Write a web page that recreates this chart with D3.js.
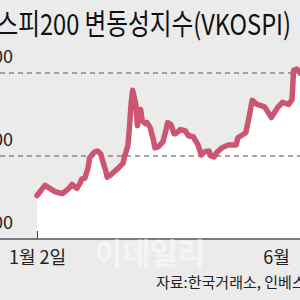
<!DOCTYPE html>
<html>
<head>
<meta charset="utf-8">
<script src="https://cdn.jsdelivr.net/npm/d3@7"></script>
<style>
  body { margin: 0; background: #ebebeb; }
  svg { display: block; }
  text { font-family: "Noto Sans CJK KR", "Noto Sans", sans-serif; }
</style>
</head>
<body>
<svg width="300" height="300"></svg>
<script>
// VKOSPI daily readings
var dates = ["01-02","01-05","01-07","01-10","01-13","01-15","01-18","01-22","01-24","01-27",
  "01-29","01-30","02-01","02-03","02-04","02-07","02-09","02-11","02-12","02-14",
  "02-15","02-17","02-19","02-22","02-25","02-26","02-28","03-01","03-02","03-03",
  "03-05","03-06","03-08","03-09","03-11","03-12","03-14","03-16","03-17","03-19",
  "03-22","03-24","03-25","03-27","03-29","03-30","04-02","04-05","04-07","04-10",
  "04-13","04-15","04-17","04-20","04-21","04-23","04-25","04-28","05-02","05-07",
  "05-08","05-11","05-13","05-15","05-17","05-20","05-24","05-25","05-29","05-31",
  "06-02","06-05","06-09","06-11","06-12","06-14","06-16"];
var values = [12.62,12.99,13.23,13.05,12.87,12.80,12.74,13.05,13.29,13.05,
  13.35,13.60,13.66,14.27,14.88,15.24,15.30,15.12,14.76,14.15,
  13.72,13.84,14.02,14.27,14.57,15.00,15.61,16.71,18.11,18.96,
  18.11,16.83,17.80,17.13,16.95,17.01,16.71,15.98,15.49,15.55,
  15.85,16.59,17.01,16.89,16.34,16.34,16.59,16.52,16.22,16.16,
  15.67,15.06,15.24,15.30,15.00,14.94,15.24,15.49,15.67,15.67,
  16.10,16.28,16.40,17.32,18.35,18.11,17.99,17.93,17.32,17.62,
  17.93,18.23,18.11,18.41,20.18,20.24,20.00];
var yTicks = [10, 15, 20];
var xTicks = ["01-02", "06-01"];
var xLabels = ["1월 2일", "6월"];

var title = "코스피200 변동성지수(VKOSPI)";
var source = "자료:한국거래소, 인베스팅닷컴";

var parse = d3.timeParse("%Y-%m-%d");
var data = dates.map(function(d, i) { return {date: parse("2018-" + d), v: values[i]}; });

var svg = d3.select("svg");

var x = d3.scaleTime()
    .domain([parse("2018-01-02"), parse("2018-06-16")])
    .range([37, 300]);
var y = d3.scaleLinear()
    .domain([10, 20])
    .range([239, 73]);

// white area under the line
var area = d3.area()
    .x(function(d) { return x(d.date); })
    .y0(y(10))
    .y1(function(d) { return y(d.v); });
svg.append("path")
    .datum(data)
    .attr("fill", "#fff")
    .attr("d", area);

// dashed grid
svg.append("g").selectAll("line")
    .data(yTicks.slice(1))
    .enter().append("line")
    .attr("x1", 0).attr("x2", 300)
    .attr("y1", function(d) { return y(d); })
    .attr("y2", function(d) { return y(d); })
    .attr("stroke", "#8a8a8a")
    .attr("stroke-width", 1.4)
    .attr("stroke-dasharray", "5,4");

// y labels (cut off at the left edge, as in the original)
svg.append("g").selectAll("text")
    .data(yTicks)
    .enter().append("text")
    .attr("x", 13)
    .attr("y", function(d) { return y(d) - 10; })
    .attr("text-anchor", "end")
    .attr("font-size", 18)
    .attr("fill", "#222")
    .text(function(d) { return d3.format(".2f")(d); });

// baseline axis
var xAxis = d3.axisBottom(x)
    .tickValues(xTicks.map(function(d) { return parse("2018-" + d); }))
    .tickSize(-8)
    .tickFormat(function(d, i) { return xLabels[i]; });
var ax = svg.append("g")
    .attr("transform", "translate(0," + y(10) + ")")
    .call(xAxis);
ax.select(".domain").remove();
ax.selectAll(".tick line")
    .attr("stroke", "#444")
    .attr("stroke-width", 1)
    .attr("opacity", function(d, i) { return i === 0 ? 1 : 0; });
ax.selectAll(".tick text")
    .attr("y", 12)
    .attr("dy", "0.71em")
    .attr("font-size", 18)
    .attr("font-family", "\"Noto Sans CJK KR\", sans-serif")
    .attr("fill", "#222");
svg.append("line")
    .attr("x1", 0).attr("x2", 300)
    .attr("y1", y(10)).attr("y2", y(10))
    .attr("stroke", "#555")
    .attr("stroke-width", 1.5);

// the series
var line = d3.line()
    .x(function(d) { return x(d.date); })
    .y(function(d) { return y(d.v); });
svg.append("path")
    .datum(data)
    .attr("fill", "none")
    .attr("stroke", "#cc5672")
    .attr("stroke-width", 5.5)
    .attr("stroke-linejoin", "round")
    .attr("stroke-linecap", "round")
    .attr("d", line);

// watermark
svg.append("text")
    .attr("x", 150).attr("y", 264)
    .attr("text-anchor", "middle")
    .attr("font-size", 30)
    .attr("font-weight", "bold")
    .attr("fill", "#fff")
    .attr("opacity", 0.45)
    .text("이데일리");

// title
svg.append("text")
    .attr("transform", "translate(291,35) scale(0.815,1)")
    .attr("text-anchor", "end")
    .attr("font-size", 29)
    .attr("fill", "#111")
    .text(title);

// source
svg.append("text")
    .attr("x", 156).attr("y", 288)
    .attr("font-size", 15)
    .attr("fill", "#222")
    .text(source);
</script>
</body>
</html>
